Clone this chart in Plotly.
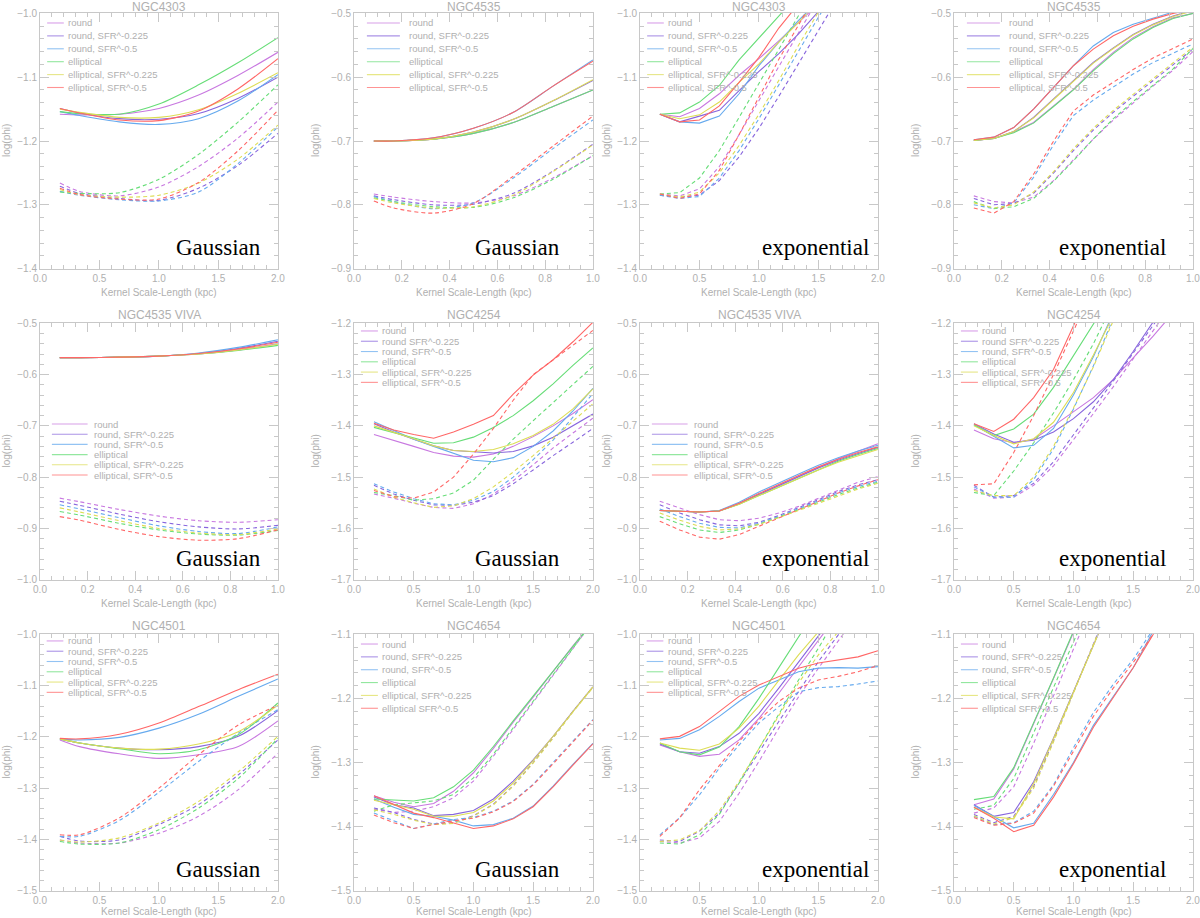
import plotly.graph_objects as go

# kernel scale-length grids (kpc)
X_G2 = [0.167, 0.333, 0.667, 1.0, 1.333, 1.667, 2.0]
X_G1 = [0.083, 0.167, 0.333, 0.5, 0.667, 0.833, 1.0]
X_S2 = [0.167, 0.333, 0.5, 0.667, 0.833, 1.0, 1.167, 1.333, 1.5, 1.667, 1.833, 2.0]
X_S1 = [0.083, 0.167, 0.25, 0.333, 0.417, 0.5, 0.583, 0.667, 0.75, 0.833, 0.917, 1.0]

LABELS = ["round", "round, SFR^-0.225", "round, SFR^-0.5",
          "elliptical", "elliptical, SFR^-0.225", "elliptical, SFR^-0.5"]
LABELS_4254 = ["round", "round SFR^-0.225", "round, SFR^-0.5",
               "elliptical", "elliptical, SFR^-0.225", "elliptical, SFR^-0.5"]
LABELS_4654 = ["round", "round, SFR^-0.225", "round, SFR^-0.5",
               "elliptical", "elliptical, SFR^-0.225", "elliptical SFR^-0.5"]
COLORS = ["#c878e0", "#8866dd", "#66aaee", "#66dd77", "#dddd55", "#ff6666"]

# order in every list: round, round .225, round .5, elliptical, ell .225, ell .5
N4303_GAU_SOLID = [
    [-1.158, -1.159, -1.158, -1.149, -1.128, -1.097, -1.061],
    [-1.149, -1.156, -1.165, -1.166, -1.157, -1.133, -1.100],
    [-1.154, -1.160, -1.170, -1.174, -1.165, -1.137, -1.096],
    [-1.154, -1.157, -1.158, -1.142, -1.112, -1.077, -1.038],
    [-1.150, -1.155, -1.163, -1.163, -1.151, -1.125, -1.093],
    [-1.149, -1.156, -1.167, -1.168, -1.153, -1.118, -1.071]]
N4303_GAU_DASH = [
    [-1.266, -1.279, -1.286, -1.272, -1.240, -1.195, -1.139],
    [-1.271, -1.282, -1.290, -1.293, -1.274, -1.238, -1.188],
    [-1.279, -1.285, -1.292, -1.294, -1.280, -1.235, -1.178],
    [-1.280, -1.282, -1.281, -1.260, -1.221, -1.170, -1.112],
    [-1.276, -1.284, -1.288, -1.285, -1.266, -1.228, -1.175],
    [-1.274, -1.284, -1.291, -1.291, -1.265, -1.215, -1.152]]

N4535_GAU_SOLID = [
    [-0.700, -0.700, -0.697, -0.688, -0.671, -0.646, -0.620],
    [-0.700, -0.700, -0.697, -0.686, -0.666, -0.637, -0.605],
    [-0.700, -0.700, -0.695, -0.680, -0.655, -0.614, -0.573],
    [-0.700, -0.700, -0.697, -0.688, -0.671, -0.646, -0.620],
    [-0.700, -0.700, -0.697, -0.686, -0.666, -0.637, -0.604],
    [-0.700, -0.700, -0.695, -0.680, -0.655, -0.614, -0.575]]
N4535_GAU_DASH = [
    [-0.783, -0.788, -0.795, -0.797, -0.786, -0.758, -0.723],
    [-0.786, -0.792, -0.800, -0.799, -0.782, -0.747, -0.705],
    [-0.787, -0.795, -0.806, -0.797, -0.758, -0.712, -0.667],
    [-0.789, -0.795, -0.803, -0.804, -0.789, -0.760, -0.723],
    [-0.790, -0.797, -0.805, -0.803, -0.785, -0.748, -0.706],
    [-0.794, -0.805, -0.813, -0.798, -0.755, -0.708, -0.661]]

N4303_EXP_SOLID = [
    [-1.158, -1.162, -1.149, -1.126, -1.097, -1.071, -1.043, -1.014, -0.985],
    [-1.158, -1.170, -1.161, -1.152, -1.121, -1.091, -1.063, -1.032, -0.997],
    [-1.158, -1.170, -1.172, -1.161, -1.126, -1.082, -1.045, -1.011, -0.980],
    [-1.158, -1.156, -1.139, -1.113, -1.073, -1.038, -1.004, -0.970],
    [-1.158, -1.165, -1.159, -1.139, -1.108, -1.079, -1.045, -1.014, -0.980],
    [-1.158, -1.170, -1.167, -1.145, -1.108, -1.069, -1.023, -0.985]]
N4303_EXP_DASH = [
    [-1.283, -1.286, -1.275, -1.240, -1.190, -1.137, -1.083, -1.030, -0.977],
    [-1.285, -1.288, -1.285, -1.262, -1.225, -1.180, -1.130, -1.078, -1.026, -0.975],
    [-1.285, -1.290, -1.287, -1.258, -1.215, -1.165, -1.112, -1.058, -1.006, -0.955],
    [-1.283, -1.281, -1.258, -1.215, -1.163, -1.110, -1.055, -1.002, -0.950],
    [-1.283, -1.288, -1.280, -1.250, -1.207, -1.158, -1.105, -1.050, -0.998, -0.950],
    [-1.283, -1.290, -1.283, -1.246, -1.190, -1.130, -1.072, -1.018, -0.965]]

N4535_EXP_SOLID = [
    [-0.699, -0.696, -0.686, -0.671, -0.645, -0.619, -0.588, -0.561, -0.538, -0.521, -0.507, -0.500],
    [-0.699, -0.696, -0.685, -0.663, -0.634, -0.606, -0.577, -0.554, -0.533, -0.517, -0.504, -0.495],
    [-0.698, -0.694, -0.679, -0.650, -0.616, -0.582, -0.551, -0.530, -0.517, -0.507, -0.498, -0.492],
    [-0.699, -0.696, -0.687, -0.672, -0.646, -0.620, -0.590, -0.563, -0.540, -0.522, -0.508, -0.500],
    [-0.699, -0.696, -0.685, -0.664, -0.635, -0.607, -0.578, -0.555, -0.534, -0.518, -0.505, -0.496],
    [-0.698, -0.694, -0.679, -0.650, -0.616, -0.582, -0.556, -0.535, -0.520, -0.509, -0.500, -0.494]]
N4535_EXP_DASH = [
    [-0.786, -0.795, -0.797, -0.788, -0.762, -0.730, -0.697, -0.667, -0.640, -0.614, -0.589, -0.560],
    [-0.790, -0.800, -0.798, -0.782, -0.750, -0.715, -0.683, -0.655, -0.630, -0.605, -0.580, -0.556],
    [-0.800, -0.806, -0.797, -0.757, -0.706, -0.660, -0.636, -0.615, -0.595, -0.577, -0.562, -0.548],
    [-0.795, -0.806, -0.803, -0.790, -0.763, -0.731, -0.697, -0.665, -0.638, -0.612, -0.587, -0.555],
    [-0.797, -0.805, -0.800, -0.780, -0.748, -0.712, -0.680, -0.652, -0.627, -0.602, -0.578, -0.553],
    [-0.805, -0.813, -0.795, -0.752, -0.700, -0.653, -0.628, -0.608, -0.588, -0.570, -0.555, -0.540]]

VIVA_GAU_SOLID = [
    [-0.567, -0.567, -0.566, -0.564, -0.560, -0.552, -0.540],
    [-0.567, -0.567, -0.566, -0.564, -0.559, -0.549, -0.535],
    [-0.567, -0.567, -0.566, -0.564, -0.558, -0.547, -0.532],
    [-0.567, -0.567, -0.566, -0.564, -0.560, -0.553, -0.543],
    [-0.567, -0.567, -0.566, -0.564, -0.560, -0.552, -0.541],
    [-0.567, -0.567, -0.566, -0.564, -0.559, -0.550, -0.537]]
VIVA_GAU_DASH = [
    [-0.841, -0.848, -0.863, -0.876, -0.885, -0.888, -0.883],
    [-0.847, -0.855, -0.872, -0.887, -0.897, -0.901, -0.894],
    [-0.854, -0.862, -0.879, -0.895, -0.906, -0.910, -0.897],
    [-0.867, -0.874, -0.890, -0.903, -0.911, -0.913, -0.904],
    [-0.860, -0.868, -0.885, -0.900, -0.909, -0.912, -0.901],
    [-0.877, -0.884, -0.902, -0.916, -0.923, -0.920, -0.903]]

N4254_GAU_SOLID = [
    [-1.417, -1.428, -1.440, -1.452, -1.459, -1.461, -1.455, -1.440, -1.421, -1.400, -1.376, -1.349],
    [-1.396, -1.412, -1.426, -1.439, -1.448, -1.451, -1.453, -1.450, -1.439, -1.422, -1.400, -1.377],
    [-1.392, -1.409, -1.426, -1.440, -1.453, -1.467, -1.470, -1.462, -1.440, -1.410, -1.371, -1.327],
    [-1.403, -1.413, -1.423, -1.434, -1.433, -1.422, -1.403, -1.380, -1.351, -1.318, -1.282, -1.248],
    [-1.400, -1.412, -1.425, -1.439, -1.448, -1.450, -1.446, -1.435, -1.419, -1.397, -1.367, -1.328],
    [-1.395, -1.408, -1.417, -1.424, -1.412, -1.397, -1.380, -1.338, -1.301, -1.271, -1.236, -1.198]]
N4254_GAU_DASH = [
    [-1.533, -1.541, -1.551, -1.559, -1.561, -1.552, -1.533, -1.507, -1.476, -1.443, -1.414, -1.385],
    [-1.516, -1.533, -1.545, -1.554, -1.555, -1.549, -1.536, -1.513, -1.486, -1.458, -1.432, -1.405],
    [-1.513, -1.529, -1.542, -1.552, -1.554, -1.545, -1.528, -1.500, -1.466, -1.428, -1.383, -1.337],
    [-1.530, -1.536, -1.545, -1.542, -1.531, -1.506, -1.465, -1.426, -1.390, -1.354, -1.318, -1.284],
    [-1.523, -1.539, -1.550, -1.559, -1.556, -1.542, -1.519, -1.490, -1.458, -1.424, -1.390, -1.357],
    [-1.526, -1.538, -1.541, -1.529, -1.500, -1.455, -1.405, -1.350, -1.300, -1.271, -1.242, -1.214]]

VIVA_EXP_SOLID = [
    [-0.865, -0.867, -0.868, -0.866, -0.852, -0.834, -0.816, -0.799, -0.781, -0.764, -0.749, -0.735],
    [-0.865, -0.867, -0.868, -0.866, -0.852, -0.834, -0.816, -0.799, -0.782, -0.767, -0.754, -0.742],
    [-0.865, -0.867, -0.868, -0.865, -0.849, -0.829, -0.811, -0.794, -0.777, -0.762, -0.749, -0.738],
    [-0.865, -0.867, -0.868, -0.866, -0.853, -0.836, -0.819, -0.802, -0.785, -0.769, -0.756, -0.744],
    [-0.865, -0.867, -0.868, -0.866, -0.853, -0.836, -0.819, -0.802, -0.786, -0.771, -0.758, -0.746],
    [-0.865, -0.867, -0.868, -0.866, -0.851, -0.832, -0.814, -0.797, -0.780, -0.765, -0.752, -0.741]]
VIVA_EXP_DASH = [
    [-0.847, -0.860, -0.873, -0.883, -0.885, -0.880, -0.870, -0.857, -0.841, -0.825, -0.810, -0.799],
    [-0.854, -0.870, -0.883, -0.893, -0.895, -0.888, -0.875, -0.860, -0.844, -0.828, -0.815, -0.805],
    [-0.862, -0.877, -0.890, -0.898, -0.899, -0.890, -0.877, -0.862, -0.847, -0.831, -0.818, -0.808],
    [-0.877, -0.891, -0.903, -0.908, -0.903, -0.892, -0.878, -0.864, -0.849, -0.834, -0.821, -0.810],
    [-0.870, -0.884, -0.896, -0.903, -0.901, -0.892, -0.879, -0.865, -0.851, -0.836, -0.823, -0.812],
    [-0.886, -0.903, -0.917, -0.921, -0.912, -0.896, -0.880, -0.864, -0.847, -0.831, -0.817, -0.805]]

N4254_EXP_SOLID = [
    [-1.408, -1.425, -1.433, -1.426, -1.400, -1.373, -1.345, -1.310, -1.268, -1.225, -1.180],
    [-1.396, -1.416, -1.432, -1.428, -1.412, -1.386, -1.353, -1.310, -1.255, -1.195, -1.140],
    [-1.398, -1.420, -1.443, -1.438, -1.405, -1.340, -1.265, -1.180],
    [-1.398, -1.419, -1.406, -1.377, -1.325, -1.265, -1.205, -1.140],
    [-1.400, -1.419, -1.435, -1.425, -1.393, -1.335, -1.262, -1.185],
    [-1.396, -1.411, -1.387, -1.345, -1.290, -1.205, -1.120]]
N4254_EXP_DASH = [
    [-1.523, -1.541, -1.539, -1.516, -1.478, -1.428, -1.376, -1.324, -1.270, -1.215, -1.160],
    [-1.516, -1.539, -1.536, -1.512, -1.470, -1.418, -1.365, -1.313, -1.258, -1.205, -1.150],
    [-1.519, -1.539, -1.539, -1.505, -1.445, -1.367, -1.283, -1.190],
    [-1.530, -1.536, -1.488, -1.433, -1.375, -1.310, -1.240, -1.160],
    [-1.526, -1.536, -1.536, -1.500, -1.440, -1.365, -1.285, -1.195],
    [-1.515, -1.513, -1.452, -1.380, -1.300, -1.215, -1.130]]

N4501_GAU_SOLID = [
    [-1.206, -1.219, -1.233, -1.242, -1.235, -1.219, -1.169],
    [-1.204, -1.212, -1.222, -1.225, -1.219, -1.199, -1.149],
    [-1.204, -1.206, -1.201, -1.183, -1.156, -1.121, -1.087],
    [-1.204, -1.212, -1.223, -1.233, -1.225, -1.196, -1.134],
    [-1.204, -1.212, -1.222, -1.224, -1.214, -1.190, -1.138],
    [-1.203, -1.204, -1.195, -1.173, -1.141, -1.108, -1.078]]
N4501_GAU_DASH = [
    [-1.401, -1.407, -1.407, -1.388, -1.355, -1.303, -1.232],
    [-1.394, -1.403, -1.401, -1.371, -1.332, -1.274, -1.206],
    [-1.394, -1.394, -1.363, -1.308, -1.248, -1.193, -1.147],
    [-1.404, -1.409, -1.407, -1.381, -1.339, -1.281, -1.203],
    [-1.401, -1.405, -1.397, -1.368, -1.326, -1.268, -1.199],
    [-1.391, -1.391, -1.358, -1.300, -1.235, -1.177, -1.138]]

N4654_GAU_SOLID = [
    [-1.352, -1.362, -1.369, -1.364, -1.345, -1.316, -1.278, -1.237, -1.198, -1.157, -1.118, -1.080],
    [-1.354, -1.366, -1.371, -1.383, -1.381, -1.375, -1.357, -1.329, -1.296, -1.259, -1.220, -1.182],
    [-1.357, -1.370, -1.381, -1.384, -1.390, -1.399, -1.397, -1.387, -1.368, -1.337, -1.303, -1.270],
    [-1.357, -1.358, -1.360, -1.355, -1.338, -1.312, -1.275, -1.235, -1.196, -1.156, -1.117, -1.080],
    [-1.359, -1.366, -1.373, -1.384, -1.384, -1.378, -1.360, -1.332, -1.297, -1.259, -1.220, -1.182],
    [-1.352, -1.366, -1.379, -1.386, -1.395, -1.403, -1.399, -1.388, -1.369, -1.338, -1.304, -1.271]]
N4654_GAU_DASH = [
    [-1.373, -1.378, -1.376, -1.369, -1.355, -1.329, -1.290, -1.248, -1.207, -1.165, -1.123, -1.080],
    [-1.371, -1.378, -1.389, -1.396, -1.394, -1.383, -1.365, -1.336, -1.300, -1.261, -1.220, -1.182],
    [-1.379, -1.391, -1.403, -1.396, -1.389, -1.386, -1.376, -1.360, -1.334, -1.300, -1.267, -1.233],
    [-1.376, -1.366, -1.363, -1.360, -1.350, -1.324, -1.287, -1.246, -1.204, -1.163, -1.121, -1.080],
    [-1.374, -1.381, -1.390, -1.397, -1.395, -1.384, -1.366, -1.337, -1.301, -1.262, -1.221, -1.183],
    [-1.382, -1.394, -1.403, -1.397, -1.391, -1.387, -1.377, -1.361, -1.335, -1.302, -1.268, -1.234]]

N4501_EXP_SOLID = [
    [-1.216, -1.229, -1.238, -1.234, -1.206, -1.164, -1.115, -1.063, -1.011, -0.960],
    [-1.214, -1.229, -1.232, -1.219, -1.193, -1.154, -1.105, -1.053, -1.003, -0.955],
    [-1.206, -1.203, -1.186, -1.160, -1.131, -1.105, -1.089, -1.073, -1.066, -1.065, -1.066, -1.063],
    [-1.212, -1.229, -1.235, -1.220, -1.180, -1.125, -1.065, -1.005, -0.945],
    [-1.212, -1.222, -1.226, -1.214, -1.183, -1.140, -1.090, -1.040, -0.995, -0.950],
    [-1.204, -1.199, -1.180, -1.151, -1.121, -1.099, -1.082, -1.066, -1.056, -1.050, -1.044, -1.032]]
N4501_EXP_DASH = [
    [-1.404, -1.407, -1.397, -1.365, -1.310, -1.248, -1.183, -1.122, -1.066, -1.014, -0.960],
    [-1.401, -1.404, -1.384, -1.349, -1.290, -1.229, -1.170, -1.112, -1.053, -1.001, -0.950],
    [-1.391, -1.358, -1.313, -1.261, -1.216, -1.173, -1.141, -1.112, -1.104, -1.102, -1.097, -1.091],
    [-1.407, -1.409, -1.391, -1.351, -1.290, -1.222, -1.154, -1.089, -1.027, -0.960],
    [-1.404, -1.401, -1.383, -1.344, -1.287, -1.222, -1.157, -1.095, -1.040, -0.995, -0.950],
    [-1.394, -1.358, -1.303, -1.255, -1.209, -1.167, -1.131, -1.105, -1.089, -1.082, -1.073, -1.061]]

N4654_EXP_SOLID = [
    [-1.366, -1.357, -1.310, -1.240, -1.169, -1.097, -1.020],
    [-1.366, -1.384, -1.378, -1.330, -1.262, -1.190, -1.118, -1.045],
    [-1.367, -1.384, -1.402, -1.395, -1.350, -1.300, -1.242, -1.197, -1.152, -1.095, -1.040],
    [-1.358, -1.353, -1.308, -1.238, -1.168, -1.095, -1.020],
    [-1.370, -1.385, -1.388, -1.333, -1.263, -1.190, -1.118, -1.045],
    [-1.370, -1.387, -1.408, -1.398, -1.354, -1.302, -1.245, -1.198, -1.152, -1.100, -1.045]]
N4654_EXP_DASH = [
    [-1.379, -1.371, -1.338, -1.270, -1.196, -1.125, -1.050],
    [-1.381, -1.394, -1.384, -1.337, -1.266, -1.189, -1.113, -1.040],
    [-1.384, -1.397, -1.394, -1.376, -1.335, -1.277, -1.222, -1.178, -1.139, -1.092, -1.040],
    [-1.373, -1.367, -1.325, -1.255, -1.183, -1.112, -1.040],
    [-1.383, -1.396, -1.386, -1.340, -1.268, -1.192, -1.116, -1.040],
    [-1.386, -1.398, -1.395, -1.379, -1.337, -1.282, -1.228, -1.184, -1.144, -1.100, -1.050]]

# legend placement styles: line x0, line x1, text x, first row y, row step (axis-domain units)
LEG = {
    "A": (0.030, 0.100, 0.110, 0.961, 0.0504),
    "B": (0.054, 0.192, 0.222, 0.961, 0.0504),
    "C": (0.050, 0.200, 0.220, 0.607, 0.0397),
    "D": (0.029, 0.100, 0.109, 0.969, 0.0400),
    "E": (0.028, 0.098, 0.110, 0.973, 0.0400),
    "F": (0.029, 0.100, 0.109, 0.961, 0.0500),
}

# (title, kernel, x, solid, dashed, y range, x max, smooth, labels, legend style)
panels = [
    ("NGC4303", "Gaussian", X_G2, N4303_GAU_SOLID, N4303_GAU_DASH, (-1.4, -1.0), 2, True, LABELS, "A"),
    ("NGC4535", "Gaussian", X_G1, N4535_GAU_SOLID, N4535_GAU_DASH, (-0.9, -0.5), 1, True, LABELS, "B"),
    ("NGC4303", "exponential", X_S2, N4303_EXP_SOLID, N4303_EXP_DASH, (-1.4, -1.0), 2, False, LABELS, "A"),
    ("NGC4535", "exponential", X_S1, N4535_EXP_SOLID, N4535_EXP_DASH, (-0.9, -0.5), 1, False, LABELS, "B"),
    ("NGC4535 VIVA", "Gaussian", X_G1, VIVA_GAU_SOLID, VIVA_GAU_DASH, (-1.0, -0.5), 1, True, LABELS, "C"),
    ("NGC4254", "Gaussian", X_S2, N4254_GAU_SOLID, N4254_GAU_DASH, (-1.7, -1.2), 2, False, LABELS_4254, "D"),
    ("NGC4535 VIVA", "exponential", X_S1, VIVA_EXP_SOLID, VIVA_EXP_DASH, (-1.0, -0.5), 1, False, LABELS, "C"),
    ("NGC4254", "exponential", X_S2, N4254_EXP_SOLID, N4254_EXP_DASH, (-1.7, -1.2), 2, False, LABELS_4254, "D"),
    ("NGC4501", "Gaussian", X_G2, N4501_GAU_SOLID, N4501_GAU_DASH, (-1.5, -1.0), 2, True, LABELS, "E"),
    ("NGC4654", "Gaussian", X_S2, N4654_GAU_SOLID, N4654_GAU_DASH, (-1.5, -1.1), 2, False, LABELS_4654, "F"),
    ("NGC4501", "exponential", X_S2, N4501_EXP_SOLID, N4501_EXP_DASH, (-1.5, -1.0), 2, False, LABELS, "E"),
    ("NGC4654", "exponential", X_S2, N4654_EXP_SOLID, N4654_EXP_DASH, (-1.5, -1.1), 2, False, LABELS_4654, "F"),
]

W, H = 1200, 918
COL_PX = [(40, 278), (354, 593), (640, 878), (954, 1193)]
ROW_PX = [(13, 269), (323, 580), (634, 891)]
AX = "#c8c8c8"
TXT = "#b0b0b0"
SANS = "Liberation Sans, Arial, sans-serif"

fig = go.Figure()
shapes, annotations = [], []

for i, (title, kernel, xs, solid, dashed, yr, xmax, smooth, labels, leg) in enumerate(panels):
    r, c = divmod(i, 4)
    n = i + 1
    xa = "x" if n == 1 else f"x{n}"
    ya = "y" if n == 1 else f"y{n}"
    l, rr = COL_PX[c]
    t, b = ROW_PX[r]

    for k in range(6):
        for ys, dash in ((solid[k], "solid"), (dashed[k], "4px,3px")):
            fig.add_trace(go.Scatter(
                x=xs[:len(ys)], y=ys, mode="lines", xaxis=xa, yaxis=ya,
                line=dict(color=COLORS[k], width=1.1, dash=dash,
                          shape="spline" if smooth else "linear", smoothing=0.8),
                showlegend=False, hoverinfo="skip"))

    common = dict(showline=True, linecolor=AX, linewidth=1, mirror="ticks",
                  ticks="inside", ticklen=9, tickcolor=AX, tickwidth=1,
                  showgrid=False, zeroline=False, automargin=False,
                  ticklabeloverflow="allow",
                  tickfont=dict(family=SANS, size=10, color=TXT))
    fig.layout[f"xaxis{'' if n == 1 else n}"] = dict(
        common, domain=[l / W, rr / W], anchor=ya, range=[0, xmax * 1.0004],
        dtick=0.5 if xmax == 2 else 0.2, tick0=0, tickformat=".1f",
        minor=dict(ticks="inside", ticklen=4, tickcolor=AX,
                   dtick=0.1 if xmax == 2 else 0.05))
    fig.layout[f"yaxis{'' if n == 1 else n}"] = dict(
        common, domain=[1 - b / H, 1 - t / H], anchor=xa,
        range=[yr[0] - 0.0006, yr[1] + 0.0006], dtick=0.1, tick0=0, tickformat=".1f",
        minor=dict(ticks="inside", ticklen=4, tickcolor=AX, dtick=0.02))

    xd, yd = f"{xa} domain", f"{ya} domain"
    annotations += [
        dict(text=title, x=0.5, y=1, xref=xd, yref=yd, yshift=6 if r == 0 else 8,
             showarrow=False, xanchor="center", yanchor="middle",
             font=dict(family=SANS, size=12, color=TXT)),
        dict(text="Kernel Scale-Length (kpc)", x=0.5, y=0, xref=xd, yref=yd,
             yshift=-20 if r == 2 else -23,
             showarrow=False, yanchor="middle", font=dict(family=SANS, size=10, color=TXT)),
        dict(text="log(phi)", x=0, y=0.5, xref=xd, yref=yd, xshift=-34 if c % 2 == 0 else -39,
             textangle=-90, showarrow=False, xanchor="center", yanchor="middle",
             font=dict(family=SANS, size=10, color=TXT)),
    ]
    if c % 2 == 0:
        kx = 0.937 if kernel == "Gaussian" else 0.97
    else:
        kx = 0.87 if kernel == "Gaussian" else 0.895
    annotations.append(dict(text=kernel, x=kx, y=0, xref=xd, yref=yd, yshift=22,
                            showarrow=False, xanchor="right", yanchor="middle",
                            font=dict(family="Liberation Serif, Times New Roman, serif",
                                      size=23, color="black")))

    lx0, lx1, tx, ly0, step = LEG[leg]
    for k in range(6):
        yy = ly0 - k * step
        shapes.append(dict(type="line", xref=xd, yref=yd, x0=lx0, x1=lx1, y0=yy, y1=yy,
                           line=dict(color=COLORS[k], width=1.1), opacity=0.7))
        annotations.append(dict(text=labels[k], x=tx, y=yy, xref=xd, yref=yd,
                                showarrow=False, xanchor="left", yanchor="middle",
                                font=dict(family=SANS, size=9.5, color=TXT)))

fig.update_layout(width=W, height=H, margin=dict(l=0, r=0, t=0, b=0, autoexpand=False),
                  paper_bgcolor="white", plot_bgcolor="white",
                  shapes=shapes, annotations=annotations, showlegend=False)

# drop the default page margin so the figure sits at the window's top-left corner
fig.write_html("out.html", config={"displayModeBar": False},
               post_script="document.body.style.margin='0';")
